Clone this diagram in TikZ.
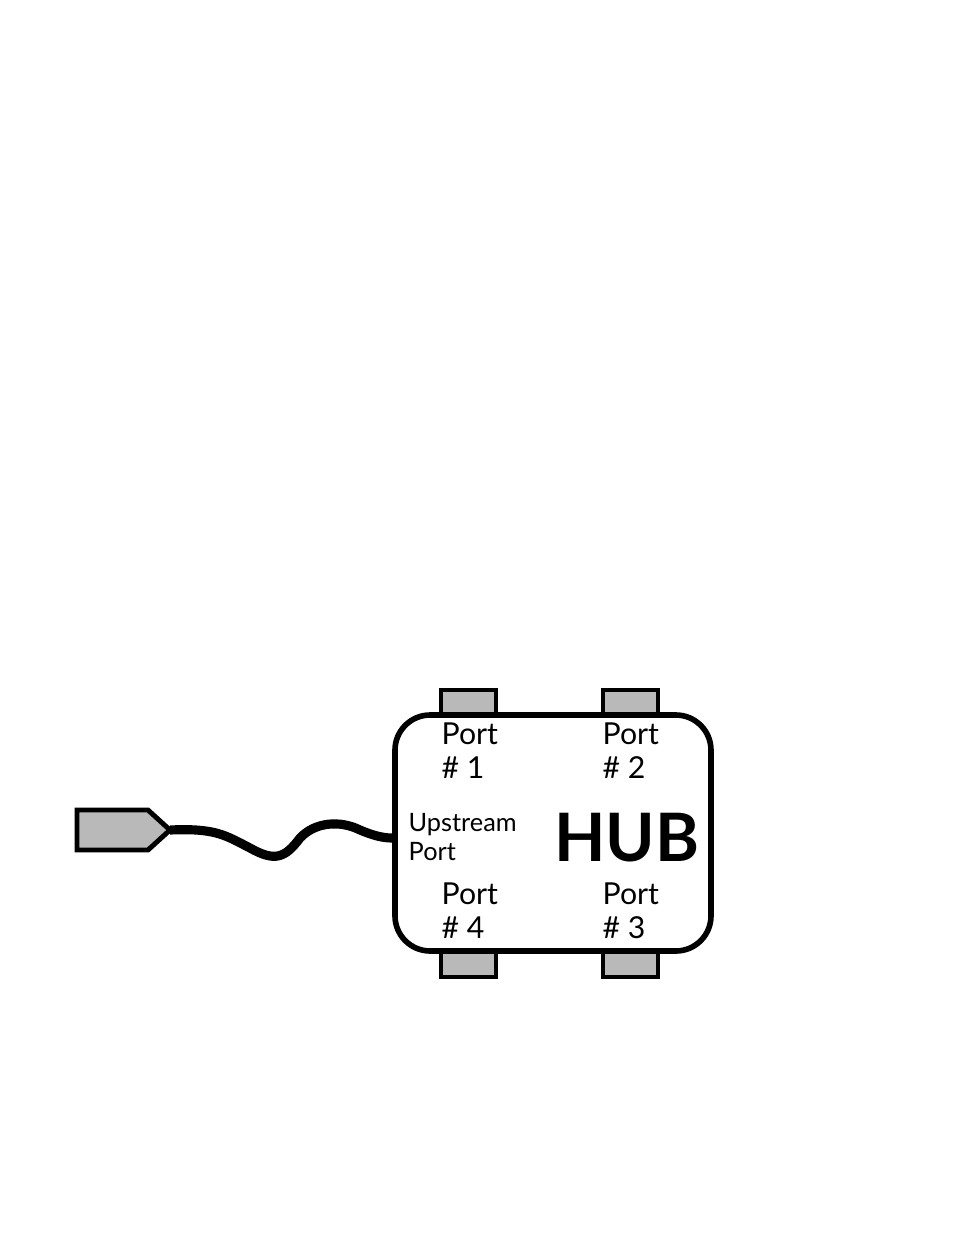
\documentclass[tikz,border=0pt]{standalone}
\usepackage{fontspec}
\setmainfont{Lato}
\tikzset{
  tab/.style={draw=black, fill=gray!55, line width=1.4pt},
  lbl/.style={anchor=north west, align=left, inner sep=0pt, font=\fontsize{8.6}{9.6}\selectfont}
}
\begin{document}
\begin{tikzpicture}[x=0.01cm, y=-0.01cm]
\useasboundingbox (0,0) rectangle (954,1235);
% port tabs
\draw[tab] (441,690) rectangle (496,715);
\draw[tab] (603,690) rectangle (658,715);
\draw[tab] (441,951) rectangle (496,977);
\draw[tab] (603,951) rectangle (658,977);
% hub body
\draw[line width=1.6pt, fill=white, rounded corners=10] (395,715) rectangle (711,951);
\node[lbl] (p1) at (441,722) {Port\\\# 1};
\node[lbl] (p2) at (602,722) {Port\\\# 2};
\node[lbl] (p4) at (441,882) {Port\\\# 4};
\node[lbl] (p3) at (602,882) {Port\\\# 3};
\node[lbl, font=\fontsize{7.2}{8.2}\selectfont] (up) at (408,813) {Upstream\\Port};
\node[anchor=center, inner sep=0pt, font=\fontsize{19}{19}\selectfont\bfseries] (hub) at (627,838) {HUB};
% plug and cable
\draw[tab, line width=1.4pt] (77,810) -- (148,810) -- (170,830) -- (148,850) -- (77,850) -- cycle;
\coordinate (plug) at (170,830);
\coordinate (upin) at (392,838);
\draw[line width=2.6pt] (plug) .. controls (215,828) and (225,835) .. (250,848)
  .. controls (275,862) and (285,858) .. (300,838)
  .. controls (315,822) and (340,820) .. (360,830)
  .. controls (372,835) and (382,838) .. (upin);
\end{tikzpicture}
\end{document}
